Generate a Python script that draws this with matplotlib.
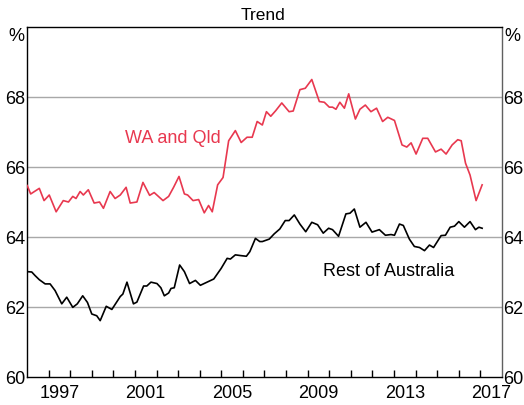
import numpy as np
import matplotlib.pyplot as plt
from matplotlib.ticker import FixedLocator, NullFormatter

plt.rcParams['font.family'] = ['Liberation Sans', 'DejaVu Sans']

# WA and Qld (decimal year, %)
wa_year = [1996.01, 1996.17, 1996.57, 1996.79, 1997.03, 1997.35, 1997.68, 1997.92,
           1998.12, 1998.27, 1998.46, 1998.61, 1998.84, 1999.11, 1999.36, 1999.54,
           1999.85, 2000.08, 2000.32, 2000.59, 2000.78, 2001.09, 2001.37, 2001.68,
           2001.89, 2002.30, 2002.56, 2002.79, 2003.04, 2003.29, 2003.44, 2003.69,
           2003.95, 2004.21, 2004.41, 2004.58, 2004.83, 2005.08, 2005.34, 2005.65,
           2005.92, 2006.19, 2006.43, 2006.66, 2006.90, 2007.09, 2007.29, 2007.52,
           2007.80, 2008.14, 2008.33, 2008.64, 2008.89, 2009.19, 2009.54, 2009.77,
           2010.00, 2010.15, 2010.31, 2010.49, 2010.70, 2010.90, 2011.21, 2011.42,
           2011.67, 2011.93, 2012.19, 2012.47, 2012.71, 2013.02, 2013.37, 2013.59,
           2013.79, 2014.02, 2014.33, 2014.56, 2014.92, 2015.18, 2015.41, 2015.69,
           2015.95, 2016.11, 2016.31, 2016.52, 2016.80, 2017.08]
wa_val = [65.47, 65.23, 65.39, 65.04, 65.20, 64.72, 65.04, 65.00,
          65.16, 65.10, 65.30, 65.20, 65.35, 64.97, 65.00, 64.82,
          65.30, 65.10, 65.20, 65.42, 64.97, 65.00, 65.56, 65.19,
          65.27, 65.04, 65.16, 65.42, 65.73, 65.23, 65.20, 65.04,
          65.07, 64.69, 64.90, 64.72, 65.49, 65.70, 66.75, 67.04,
          66.70, 66.85, 66.85, 67.30, 67.20, 67.58, 67.45, 67.61,
          67.83, 67.58, 67.60, 68.21, 68.25, 68.50, 67.87, 67.85,
          67.71, 67.71, 67.65, 67.85, 67.68, 68.09, 67.37, 67.65,
          67.77, 67.58, 67.68, 67.30, 67.42, 67.33, 66.63, 66.57,
          66.69, 66.37, 66.82, 66.82, 66.43, 66.51, 66.37, 66.63,
          66.78, 66.75, 66.11, 65.77, 65.04, 65.49]

# Rest of Australia
ra_year = [1996.01, 1996.22, 1996.37, 1996.57, 1996.84, 1997.07, 1997.30, 1997.61,
           1997.84, 1998.12, 1998.33, 1998.58, 1998.80, 1999.00, 1999.23, 1999.39,
           1999.67, 1999.93, 2000.32, 2000.44, 2000.63, 2000.93, 2001.09, 2001.40,
           2001.55, 2001.74, 2002.02, 2002.20, 2002.36, 2002.56, 2002.67, 2002.82,
           2003.07, 2003.29, 2003.53, 2003.80, 2004.03, 2004.34, 2004.65, 2004.99,
           2005.27, 2005.42, 2005.65, 2005.88, 2006.16, 2006.32, 2006.58, 2006.78,
           2006.90, 2007.22, 2007.45, 2007.71, 2007.96, 2008.14, 2008.38, 2008.64,
           2008.91, 2009.19, 2009.46, 2009.72, 2009.97, 2010.15, 2010.43, 2010.77,
           2010.96, 2011.16, 2011.42, 2011.70, 2011.98, 2012.32, 2012.60, 2012.86,
           2013.02, 2013.25, 2013.43, 2013.71, 2013.94, 2014.18, 2014.41, 2014.64,
           2014.83, 2015.18, 2015.38, 2015.60, 2015.80, 2016.00, 2016.26, 2016.52,
           2016.77, 2016.93, 2017.08]
ra_val = [63.01, 63.00, 62.90, 62.78, 62.66, 62.66, 62.47, 62.09,
          62.28, 61.99, 62.09, 62.32, 62.13, 61.80, 61.75, 61.61,
          62.02, 61.93, 62.30, 62.37, 62.71, 62.09, 62.14, 62.60,
          62.60, 62.71, 62.67, 62.55, 62.32, 62.40, 62.53, 62.55,
          63.20, 63.01, 62.67, 62.76, 62.62, 62.71, 62.80, 63.10,
          63.39, 63.37, 63.49, 63.47, 63.45, 63.58, 63.96, 63.87,
          63.87, 63.94, 64.09, 64.23, 64.47, 64.47, 64.63, 64.37,
          64.15, 64.42, 64.35, 64.11, 64.25, 64.21, 64.02, 64.66,
          64.68, 64.80, 64.28, 64.42, 64.14, 64.21, 64.05, 64.07,
          64.05, 64.37, 64.33, 63.94, 63.73, 63.70, 63.61, 63.77,
          63.70, 64.04, 64.05, 64.28, 64.31, 64.44, 64.28, 64.44,
          64.21, 64.28, 64.25]

year_labels = [1997, 2001, 2005, 2009, 2013, 2017]
y_ticks = [60, 62, 64, 66, 68]

red = '#e8384f'

fig = plt.figure(figsize=(5.24, 4.06), dpi=100)
ax = fig.add_axes([27 / 524, 28 / 406, 475 / 524, 350 / 406])

for y in y_ticks[1:]:
    ax.axhline(y, color='#a8a8a8', lw=1.0, zorder=1)

ax.plot(wa_year, wa_val, color=red, lw=1.2, zorder=3)
ax.plot(ra_year, ra_val, color='black', lw=1.2, zorder=3)

ax.set_xlim(1996, 2018)
ax.set_ylim(60, 70)

# year ticks at year starts, labels in the middle of the year
ax.xaxis.set_minor_locator(FixedLocator(np.arange(1997, 2018)))
ax.xaxis.set_minor_formatter(NullFormatter())
ax.set_xticks([y + 0.5 for y in year_labels])
ax.set_xticklabels([str(y) for y in year_labels])
ax.tick_params(axis='x', which='major', length=0, labelsize=13, pad=5)
ax.tick_params(axis='x', which='minor', direction='in', length=5, width=1)

ax.set_yticks(y_ticks)
ax.tick_params(axis='y', length=0, labelsize=13, pad=1,
               left=True, right=True, labelleft=True, labelright=True)

for s in ax.spines.values():
    s.set_linewidth(1.0)
ax.spines['right'].set_color('#606060')

ax.text(-0.005, 1.0, '%', transform=ax.transAxes, ha='right', va='top', fontsize=13)
ax.text(1.005, 1.0, '%', transform=ax.transAxes, ha='left', va='top', fontsize=13)

ax.text(2002.77, 66.84, 'WA and Qld', color=red, ha='center', va='center', fontsize=13)
ax.text(2012.75, 63.04, 'Rest of Australia', color='black', ha='center', va='center',
        fontsize=13)

fig.text(263 / 524, 1 - 15 / 406, 'Trend', ha='center', va='center', fontsize=12.5)

fig.savefig('out.png', dpi=100)
